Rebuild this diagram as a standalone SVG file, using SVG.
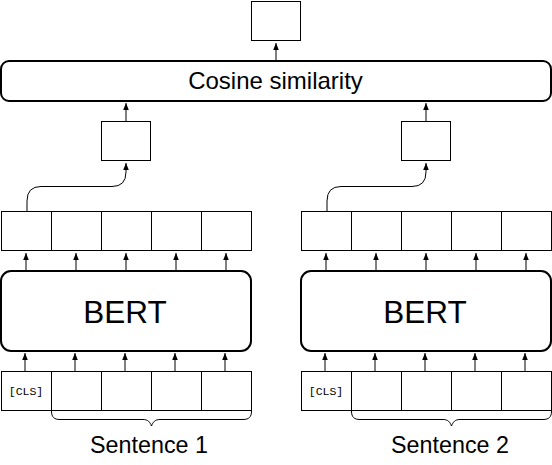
<svg xmlns="http://www.w3.org/2000/svg" width="552" height="465" viewBox="0 0 552 465">
<defs>
<marker id="ah" markerWidth="8" markerHeight="8" refX="7" refY="4" orient="auto" markerUnits="userSpaceOnUse">
<path d="M0,1.2 L7,4 L0,6.8 Z" fill="#000"/>
</marker>
<style>
.box{fill:#fff;stroke:#000;stroke-width:1}
.big{fill:#fff;stroke:#000;stroke-width:2}
.ln{fill:none;stroke:#000;stroke-width:1}
.t{font-family:"Liberation Sans",Arial,sans-serif;fill:#000;text-anchor:middle}
.m{font-family:"Liberation Mono","Courier New",monospace;font-size:11.5px;fill:#000;text-anchor:middle}
</style>
</defs>
<g id="connectors">
<path class="ln" d="M276,61 V43" marker-end="url(#ah)"/>
<path class="ln" d="M126,121 V103" marker-end="url(#ah)"/>
<path class="ln" d="M426,121 V103" marker-end="url(#ah)"/>
<path class="ln" d="M27,211 V201 Q27,186.5 41,186.5 H112 Q126,186.5 126,172 V163" marker-end="url(#ah)"/>
<path class="ln" d="M327,211 V201 Q327,186.5 341,186.5 H412 Q426,186.5 426,172 V163" marker-end="url(#ah)"/>
<path class="ln" d="M26,271 V253" marker-end="url(#ah)"/>
<path class="ln" d="M76,271 V253" marker-end="url(#ah)"/>
<path class="ln" d="M126,271 V253" marker-end="url(#ah)"/>
<path class="ln" d="M176,271 V253" marker-end="url(#ah)"/>
<path class="ln" d="M226,271 V253" marker-end="url(#ah)"/>
<path class="ln" d="M326,271 V253" marker-end="url(#ah)"/>
<path class="ln" d="M376,271 V253" marker-end="url(#ah)"/>
<path class="ln" d="M426,271 V253" marker-end="url(#ah)"/>
<path class="ln" d="M476,271 V253" marker-end="url(#ah)"/>
<path class="ln" d="M526,271 V253" marker-end="url(#ah)"/>
<path class="ln" d="M25,371 V353" marker-end="url(#ah)"/>
<path class="ln" d="M75,371 V353" marker-end="url(#ah)"/>
<path class="ln" d="M125,371 V353" marker-end="url(#ah)"/>
<path class="ln" d="M175,371 V353" marker-end="url(#ah)"/>
<path class="ln" d="M225,371 V353" marker-end="url(#ah)"/>
<path class="ln" d="M325,371 V353" marker-end="url(#ah)"/>
<path class="ln" d="M375,371 V353" marker-end="url(#ah)"/>
<path class="ln" d="M425,371 V353" marker-end="url(#ah)"/>
<path class="ln" d="M475,371 V353" marker-end="url(#ah)"/>
<path class="ln" d="M525,371 V353" marker-end="url(#ah)"/>
</g>
<g id="output"><rect class="box" x="251.5" y="1.5" width="49" height="39"/></g>
<g id="cosine">
<rect class="big" x="1" y="61" width="550" height="40" rx="8"/>
<text class="t" x="275.5" y="89" font-size="24">Cosine similarity</text>
</g>
<g id="pool1"><rect class="box" x="101.5" y="121.5" width="49" height="39"/></g>
<g id="pool2"><rect class="box" x="401.5" y="121.5" width="49" height="39"/></g>
<g id="out1">
<rect class="box" x="1.5" y="211.5" width="50" height="39"/>
<rect class="box" x="51.5" y="211.5" width="50" height="39"/>
<rect class="box" x="101.5" y="211.5" width="50" height="39"/>
<rect class="box" x="151.5" y="211.5" width="50" height="39"/>
<rect class="box" x="201.5" y="211.5" width="50" height="39"/>
</g>
<g id="out2">
<rect class="box" x="301.5" y="211.5" width="50" height="39"/>
<rect class="box" x="351.5" y="211.5" width="50" height="39"/>
<rect class="box" x="401.5" y="211.5" width="50" height="39"/>
<rect class="box" x="451.5" y="211.5" width="50" height="39"/>
<rect class="box" x="501.5" y="211.5" width="50" height="39"/>
</g>
<g id="bert1">
<rect class="big" x="1" y="271" width="250" height="80" rx="10"/>
<text class="t" x="125" y="323" font-size="31.5">BERT</text>
</g>
<g id="bert2">
<rect class="big" x="301" y="271" width="250" height="80" rx="10"/>
<text class="t" x="425" y="323" font-size="31.5">BERT</text>
</g>
<g id="in1">
<rect class="box" x="1.5" y="371.5" width="50" height="39"/>
<text class="m" x="26" y="394.5">[CLS]</text>
<rect class="box" x="51.5" y="371.5" width="50" height="39"/>
<rect class="box" x="101.5" y="371.5" width="50" height="39"/>
<rect class="box" x="151.5" y="371.5" width="50" height="39"/>
<rect class="box" x="201.5" y="371.5" width="50" height="39"/>
</g>
<g id="in2">
<rect class="box" x="301.5" y="371.5" width="50" height="39"/>
<text class="m" x="326" y="394.5">[CLS]</text>
<rect class="box" x="351.5" y="371.5" width="50" height="39"/>
<rect class="box" x="401.5" y="371.5" width="50" height="39"/>
<rect class="box" x="451.5" y="371.5" width="50" height="39"/>
<rect class="box" x="501.5" y="371.5" width="50" height="39"/>
</g>
<g id="brace1">
<path class="ln" d="M51.5,411 C51.5,417 54,419.5 60,419.5 H143 C148,419.5 150,422 151.5,426 C153,422 155,419.5 160,419.5 H243 C249,419.5 251.5,417 251.5,411"/>
<text class="t" x="149" y="453" font-size="23.3">Sentence 1</text>
</g>
<g id="brace2">
<path class="ln" d="M351.5,411 C351.5,417 354,419.5 360,419.5 H443 C448,419.5 450,422 451.5,426 C453,422 455,419.5 460,419.5 H543 C549,419.5 551.5,417 551.5,411"/>
<text class="t" x="450" y="453" font-size="23.3">Sentence 2</text>
</g>
</svg>
